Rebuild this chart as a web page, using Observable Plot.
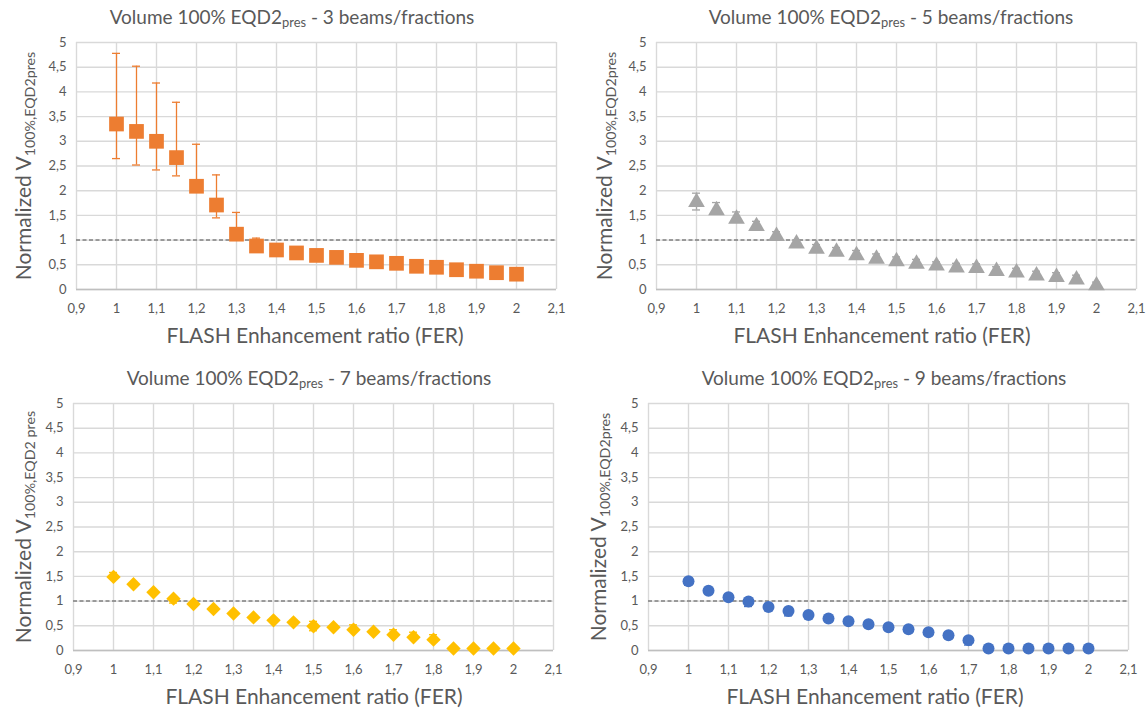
<!DOCTYPE html>
<html>
<head>
<meta charset="utf-8">
<script src="https://cdn.jsdelivr.net/npm/d3@7"></script>
<script src="https://cdn.jsdelivr.net/npm/@observablehq/plot@0.6"></script>
<style>
  html, body { margin:0; padding:0; background:#fff; }
  #root { position:relative; width:1147px; height:712px; overflow:hidden; font-family: Lato, "Open Sans", sans-serif; color:#595959; }
  .panel { position:absolute; }
  .title { position:absolute; white-space:nowrap; font-size:19px; transform:translate(-50%,-50%); color:#595959; }
  .xlab { position:absolute; white-space:nowrap; font-size:21px; transform:translate(-50%,-50%); color:#595959; }
  .ylab { position:absolute; white-space:nowrap; font-size:21px; transform:translate(-50%,-50%) rotate(-90deg); color:#595959; }
  sub { font-size:0.68em; vertical-align:-0.3em; line-height:0; }
</style>
</head>
<body>
<div id="root"></div>
<script>
// ---- data ----
const fer = [1, 1.05, 1.1, 1.15, 1.2, 1.25, 1.3, 1.35, 1.4, 1.45, 1.5, 1.55, 1.6, 1.65, 1.7, 1.75, 1.8, 1.85, 1.9, 1.95, 2];

const v3   = [3.35, 3.20, 3.00, 2.67, 2.09, 1.71, 1.12, 0.88, 0.80, 0.74, 0.69, 0.65, 0.59, 0.56, 0.53, 0.47, 0.45, 0.40, 0.37, 0.34, 0.31];
const v3hi = [4.78, 4.52, 4.18, 3.79, 2.94, 2.32, 1.56, 1.04, null, null, null, null, null, null, null, null, null, null, null, null, null];
const v3lo = [2.65, 2.52, 2.42, 2.30, 1.98, 1.45, 1.02, 0.85, null, null, null, null, null, null, null, null, null, null, null, null, null];

const v5   = [1.77, 1.60, 1.43, 1.28, 1.08, 0.93, 0.82, 0.76, 0.69, 0.62, 0.57, 0.52, 0.48, 0.44, 0.43, 0.37, 0.34, 0.28, 0.25, 0.20, 0.08];
const v5hi = [1.95, 1.76, 1.57, 1.38, 1.17, 1.00, 0.91, 0.85, 0.79, 0.72, 0.66, 0.61, 0.56, 0.53, 0.52, 0.46, 0.43, 0.37, 0.34, 0.29, 0.15];
const v5lo = [1.61, null, null, null, null, null, null, null, null, null, null, null, null, null, null, null, null, null, null, null, null];

const v7   = [1.49, 1.34, 1.18, 1.05, 0.94, 0.84, 0.75, 0.67, 0.61, 0.57, 0.49, 0.47, 0.42, 0.38, 0.32, 0.27, 0.22, 0.04, 0.04, 0.04, 0.04];
const v7hi = [1.58, null, null, null, null, null, null, null, null, null, 0.59, null, 0.52, null, 0.42, 0.37, 0.32, null, null, null, null];
const v7lo = [null, null, null, 0.96, null, null, null, null, null, null, 0.40, null, null, null, null, null, null, null, null, null, null];

const v9   = [1.40, 1.21, 1.08, 0.99, 0.88, 0.80, 0.72, 0.65, 0.59, 0.53, 0.47, 0.43, 0.37, 0.31, 0.21, 0.04, 0.04, 0.04, 0.04, 0.04, 0.04];
const v9hi = [null, null, null, null, null, null, null, null, null, null, null, null, null, null, null, null, null, null, null, null, null];
const v9lo = [1.32, null, null, 0.89, null, 0.70, null, null, null, null, null, null, null, null, 0.11, null, null, null, null, null, null];

const xTicks = [0.9, 1, 1.1, 1.2, 1.3, 1.4, 1.5, 1.6, 1.7, 1.8, 1.9, 2, 2.1];
const xTickLabels = ["0,9", "1", "1,1", "1,2", "1,3", "1,4", "1,5", "1,6", "1,7", "1,8", "1,9", "2", "2,1"];
const yTicks = [0, 0.5, 1, 1.5, 2, 2.5, 3, 3.5, 4, 4.5, 5];
const yTickLabels = ["0", "0,5", "1", "1,5", "2", "2,5", "3", "3,5", "4", "4,5", "5"];

const titles = ["3 beams/fractions", "5 beams/fractions", "7 beams/fractions", "9 beams/fractions"];
const yLabelSubs = ["100%,EQD2pres", "100%,EQD2pres", "100%,EQD2 pres", "100%,EQD2pres"];
const xLabel = "FLASH Enhancement ratio (FER)";

// ---- drawing ----
const root = document.getElementById("root");
const font = 'Lato, "Open Sans", sans-serif';

function makePanel(cfg) {
  const rows = fer.map((x, i) => ({x, v: cfg.v[i], hi: cfg.hi[i], lo: cfg.lo[i]}));
  const capHalf = 0.01;
  const hiRows = rows.filter(d => d.hi != null);
  const loRows = rows.filter(d => d.lo != null);
  const plot = Plot.plot({
    width: 573, height: 340,
    marginLeft: cfg.ml, marginRight: cfg.mr, marginTop: 42, marginBottom: 51,
    x: {domain: [0.9, 2.1], ticks: xTicks, tickFormat: d => xTickLabels[xTicks.findIndex(t => Math.abs(t - d) < 1e-9)], tickSize: 0, tickPadding: 14, label: null},
    y: {domain: [0, 5], ticks: yTicks, tickFormat: d => yTickLabels[yTicks.findIndex(t => Math.abs(t - d) < 1e-9)], tickSize: 0, tickPadding: 10, label: null},
    style: {fontFamily: font, fontSize: "13px", color: "#595959", background: "transparent"},
    marks: [
      Plot.gridX(xTicks, {stroke: "#d9d9d9", strokeOpacity: 1, strokeWidth: 1.4}),
      Plot.gridY(yTicks, {stroke: "#d9d9d9", strokeOpacity: 1, strokeWidth: 1.4}),
      Plot.ruleY([0], {stroke: "#bfbfbf", strokeWidth: 1.5}),
      Plot.ruleY([1], {stroke: "#808080", strokeWidth: 1.5, strokeDasharray: "4,2.5"}),
      Plot.ruleX(hiRows, {x: "x", y1: "v", y2: "hi", stroke: cfg.color, strokeWidth: 1.3}),
      Plot.ruleX(loRows, {x: "x", y1: "v", y2: "lo", stroke: cfg.color, strokeWidth: 1.3}),
      Plot.ruleY(hiRows, {y: "hi", x1: d => d.x - capHalf, x2: d => d.x + capHalf, stroke: cfg.color, strokeWidth: 1.3}),
      Plot.ruleY(loRows, {y: "lo", x1: d => d.x - capHalf, x2: d => d.x + capHalf, stroke: cfg.color, strokeWidth: 1.3}),
      Plot.dot(rows, {x: "x", y: "v", symbol: cfg.symbol, r: cfg.r, fill: cfg.color, stroke: "none"})
    ]
  });
  const wrap = document.createElement("div");
  wrap.className = "panel";
  wrap.style.left = cfg.left + "px";
  wrap.style.top = cfg.top + "px";
  wrap.appendChild(plot);
  root.appendChild(wrap);

  const t = document.createElement("div");
  t.className = "title";
  t.style.left = cfg.tx + "px"; t.style.top = cfg.ty + "px";
  t.innerHTML = "Volume 100% EQD2<sub>pres</sub> - " + cfg.title;
  root.appendChild(t);

  const xl = document.createElement("div");
  xl.className = "xlab";
  xl.style.left = cfg.xx + "px"; xl.style.top = cfg.xy + "px";
  xl.textContent = xLabel;
  root.appendChild(xl);

  const yl = document.createElement("div");
  yl.className = "ylab";
  yl.style.left = cfg.yx + "px"; yl.style.top = cfg.yy + "px";
  yl.innerHTML = "Normalized V<sub>" + cfg.ysub + "</sub>";
  root.appendChild(yl);
}

makePanel({left: 0, top: 0, ml: 76, mr: 17, v: v3, hi: v3hi, lo: v3lo, color: "#ED7D31", symbol: "square", r: 8.3,
  title: titles[0], ysub: yLabelSubs[0], tx: 292, ty: 16, xx: 315, xy: 334, yx: 22, yy: 166});
makePanel({left: 573, top: 0, ml: 83, mr: 10, v: v5, hi: v5hi, lo: v5lo, color: "#A5A5A5", symbol: "triangle", r: 6.2,
  title: titles[1], ysub: yLabelSubs[1], tx: 891, ty: 16, xx: 882, xy: 334, yx: 603, yy: 166});
makePanel({left: 0, top: 361, ml: 73, mr: 20, v: v7, hi: v7hi, lo: v7lo, color: "#FFC000", symbol: "diamond2", r: 6.5,
  title: titles[2], ysub: yLabelSubs[2], tx: 309, ty: 377, xx: 314, xy: 695, yx: 22, yy: 527});
makePanel({left: 573, top: 361, ml: 75, mr: 18, v: v9, hi: v9hi, lo: v9lo, color: "#4472C4", symbol: "circle", r: 6,
  title: titles[3], ysub: yLabelSubs[3], tx: 884, ty: 377, xx: 875, xy: 695, yx: 597, yy: 527});
</script>
</body>
</html>
